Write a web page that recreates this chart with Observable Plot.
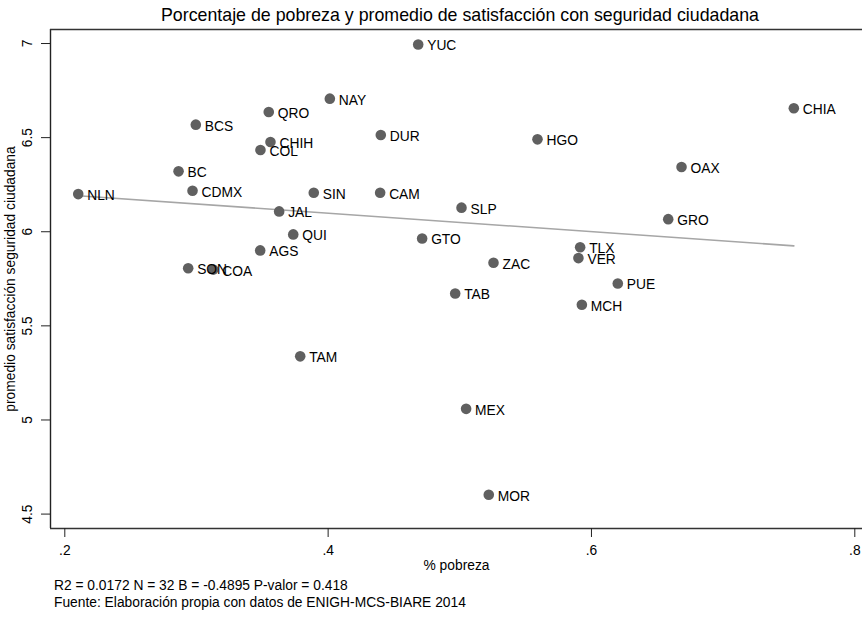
<!DOCTYPE html>
<html>
<head>
<meta charset="utf-8">
<script src="https://cdn.jsdelivr.net/npm/d3@7"></script>
<script src="https://cdn.jsdelivr.net/npm/@observablehq/plot@0.6"></script>
<style>
  html, body { margin: 0; padding: 0; background: #fff; }
  #wrap { position: relative; width: 862px; height: 618px; font-family: "Liberation Sans", Arial, Helvetica, sans-serif; color: #000; }
  #wrap svg { position: absolute; left: 0; top: 0; }
  .title { position: absolute; left: 50px; width: 820px; top: 6.5px; text-align: center; font-size: 17.8px; line-height: 1; white-space: nowrap; }
  .note { position: absolute; left: 54px; font-size: 13.8px; line-height: 1; white-space: nowrap; }
</style>
</head>
<body>
<div id="wrap">
  <div class="title">Porcentaje de pobreza y promedio de satisfacción con seguridad ciudadana</div>
  <div class="note" style="top:579px">R2 = 0.0172 N = 32 B = -0.4895 P-valor = 0.418</div>
  <div class="note" style="top:595.5px">Fuente: Elaboración propia con datos de ENIGH-MCS-BIARE 2014</div>
</div>
<script>
const estados = ["NLN","BCS","QRO","CHIH","COL","BC","CDMX","SIN","JAL","QUI","AGS","SON","COA",
  "YUC","NAY","DUR","HGO","CAM","SLP","GTO","ZAC","TLX","VER",
  "CHIA","OAX","GRO","PUE","TAM","TAB","MCH","MEX","MOR"];
const pobreza = [0.2102,0.2995,0.3549,0.3562,0.3486,0.2864,0.2970,0.3891,0.3628,0.3735,0.3484,0.2937,0.3127,
  0.4684,0.4013,0.4400,0.5590,0.4395,0.5013,0.4714,0.5256,0.5914,0.5901,
  0.7537,0.6684,0.6583,0.6200,0.3788,0.4965,0.5927,0.5048,0.5220];
const satisfaccion = [6.200,6.569,6.636,6.477,6.434,6.321,6.218,6.207,6.108,5.986,5.901,5.806,5.799,
  6.995,6.707,6.514,6.491,6.207,6.128,5.964,5.835,5.918,5.860,
  6.656,6.344,6.067,5.725,5.338,5.672,5.612,5.059,4.603];
const xTicks = [0.2, 0.4, 0.6, 0.8];
const xTickLabels = [".2", ".4", ".6", ".8"];
const yTicks = [4.5, 5, 5.5, 6, 6.5, 7];
const yTickLabels = ["4.5", "5", "5.5", "6", "6.5", "7"];

const data = estados.map((e, i) => ({estado: e, x: pobreza[i], y: satisfaccion[i]}));
const xDomain = [0.18914, 0.80585];
const yDomain = [4.4234, 7.0745];

const font = "Liberation Sans, Arial, Helvetica, sans-serif";
const fs = 13.8;
const chart = Plot.plot({
  width: 862,
  height: 618,
  marginLeft: 50,
  marginRight: 0,
  marginTop: 29,
  marginBottom: 90,
  style: {fontFamily: font, fontSize: fs + "px", background: "transparent", color: "#000"},
  x: {domain: xDomain, axis: null},
  y: {domain: yDomain, axis: null},
  marks: [
    Plot.linearRegressionY(data, {x: "x", y: "y", ci: 0, stroke: "#a6a6a6", strokeWidth: 1.6}),
    Plot.dot(data, {x: "x", y: "y", r: 5.3, fill: "#606060", stroke: "none"}),
    Plot.text(data, {x: "x", y: "y", text: "estado", textAnchor: "start", dx: 9, dy: 1.5, fontSize: fs, fill: "#000"}),
    // frame lines (left, top, bottom)
    Plot.ruleX([xDomain[0]], {stroke: "#222", strokeWidth: 1.4}),
    Plot.ruleY([yDomain[0], yDomain[1]], {stroke: "#333", strokeWidth: 1.4}),
    // x axis
    Plot.axisX(xTicks, {anchor: "bottom", tickSize: 9, tickPadding: 8, tickFormat: (d, i) => xTickLabels[i], fontSize: fs, label: null, stroke: "#222"}),
    Plot.text(["% pobreza"], {frameAnchor: "bottom", textAnchor: "middle", dy: 32, lineAnchor: "top", fontSize: fs, fill: "#000"}),
    // y axis
    Plot.axisY(yTicks, {anchor: "left", tickSize: 9, tickFormat: () => "", label: null, stroke: "#222"}),
    Plot.text(yTicks, {y: d => d, text: (d, i) => yTickLabels[i], frameAnchor: "left", textAnchor: "middle", dx: -23, rotate: -90, fontSize: fs, fill: "#000"}),
    Plot.text(["promedio satisfacción seguridad ciudadana"], {frameAnchor: "left", textAnchor: "middle", dx: -40, rotate: -90, fontSize: fs, fill: "#000"})
  ]
});
document.getElementById("wrap").prepend(chart);
</script>
</body>
</html>
